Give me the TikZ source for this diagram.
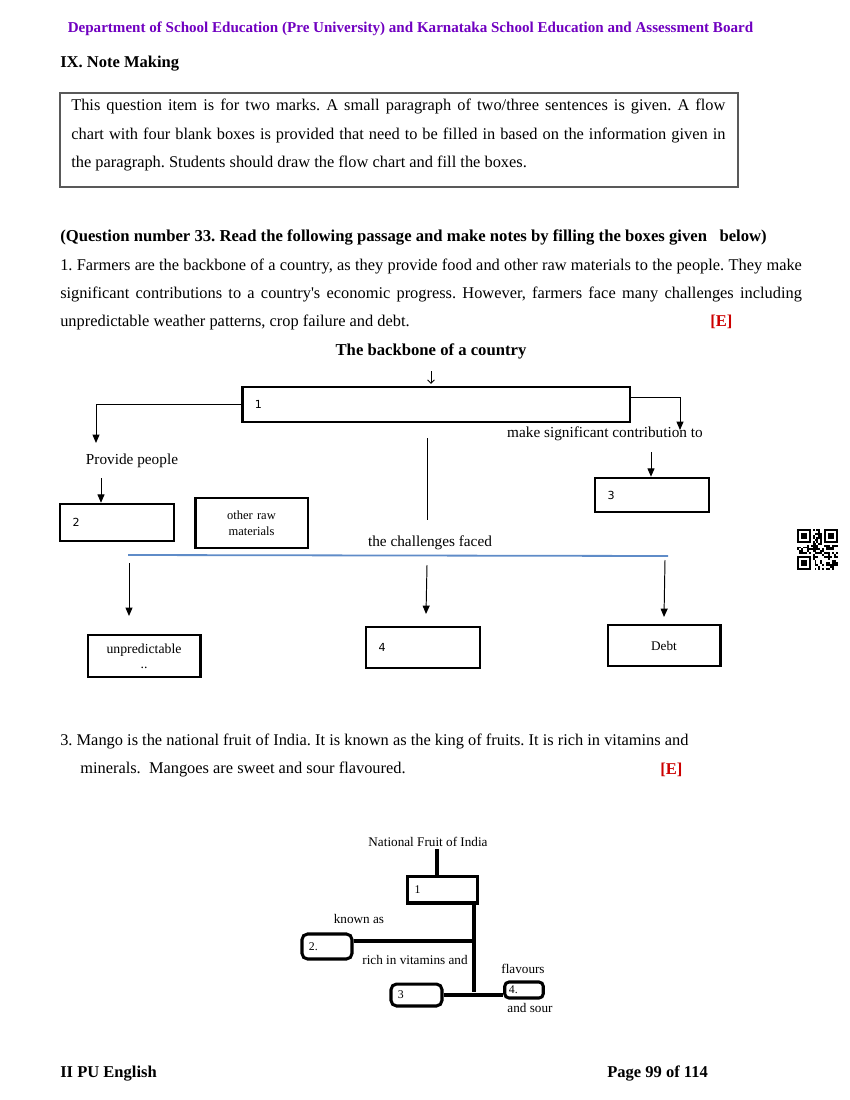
\documentclass[tikz,border=0pt]{standalone}
\usepackage{fontspec}
\setmainfont{Liberation Serif}
\newfontfamily\boxfont{DejaVu Sans}
\usepackage{tikz}
\usetikzlibrary{arrows.meta, positioning, calc}
\definecolor{hdrpurple}{RGB}{112,0,192}
\definecolor{markred}{RGB}{204,0,0}
\definecolor{lineblue}{RGB}{95,140,200}
\frenchspacing

\begin{document}
\begin{tikzpicture}[x=0.72pt, y=-0.72pt,
    txt/.style={inner sep=0pt, anchor=base west, font=\fontsize{11.8}{14}\selectfont},
    hdr/.style={inner sep=0pt, anchor=base west, font=\fontsize{11.9}{14}\selectfont\bfseries},
    para/.style={inner sep=0pt, anchor=base west, text width=#1, align=justify, font=\fontsize{11.8}{20.3}\selectfont},
    lbl/.style={inner sep=1pt, font=\fontsize{11}{13}\selectfont},
    mlbl/.style={inner sep=1pt, font=\fontsize{9.5}{11}\selectfont},
    nbox/.style 2 args={draw, line width=1.8pt, text width=#1, minimum height=#2, inner xsep=9pt, inner ysep=0pt, align=left, font=\boxfont\fontsize{8}{10}\selectfont},
    tbox/.style 2 args={draw, line width=1.8pt, text width=#1, minimum height=#2, inner xsep=4pt, inner ysep=0pt, align=center, font=\fontsize{9}{11.5}\selectfont},
    mbox/.style 2 args={draw, line width=2.2pt, text width=#1, minimum height=#2, inner xsep=5pt, inner ysep=0pt, align=left, font=\fontsize{8.5}{9}\selectfont},
    arr/.style={-{Triangle[length=6pt, width=5pt]}, line width=0.7pt},
    thk/.style={line width=2.5pt},
    >=Stealth
]
\useasboundingbox (0,0) rectangle (850,1100);

% header
\node[inner sep=0pt, anchor=base, text=hdrpurple, font=\fontsize{10.85}{12}\selectfont\bfseries] (dept) at (410.5,33)
  {Department of School Education (Pre University) and Karnataka School Education and Assessment Board};
\node[hdr] (sec) at (60,68) {IX. Note Making};

% instructions
\draw[line width=0.9pt, black!65] (60,93) rectangle (738,187);
\node[para=471pt] (instr) at (71,111)
  {This question item is for two marks. A small paragraph of two/three sentences is given. A flow\linebreak
   chart with four blank boxes is provided that need to be filled in based on the information given in\linebreak
   the paragraph. Students should draw the flow chart and fill the boxes.};

% question 33
\node[hdr, font=\fontsize{12}{14}\selectfont\bfseries] (q33) at (60,241) {(Question number 33. Read the following passage and make notes by filling the boxes given\ \ \ below)};
\node[para=534pt] (pass1) at (60,270)
  {1. Farmers are the backbone of a country, as they provide food and other raw materials to the people. They make\linebreak
   significant contributions to a country\textquotesingle s economic progress. However, farmers face many challenges including\linebreak
   unpredictable weather patterns, crop failure and debt.};
\node[hdr, text=markred] (mark1) at (710,326) {[E]};

% flow chart 1
\node[inner sep=0pt, anchor=base, font=\fontsize{12}{14}\selectfont\bfseries] (title) at (431,355) {The backbone of a country};
\node[nbox={261pt}{25pt}] (b1) at (436,404.5) {1};
\node[lbl] (pp) at (132,461) {Provide people};
\node[nbox={64pt}{26.6pt}] (b2) at (117,522.5) {2};
\node[tbox={73pt}{36pt}] (raw) at (251.5,523) {other raw\\materials};
\node[lbl] (msc) at (605,434) {make significant contribution to};
\node[nbox={64pt}{24.5pt}] (b3) at (652,495) {3};
\node[lbl] (chl) at (430,543) {the challenges faced};
\node[tbox={73pt}{30pt}, font=\fontsize{9.9}{12}\selectfont] (unp) at (144,656) {unpredictable\\[-1pt]..};
\node[nbox={64pt}{29.5pt}] (b4) at (423,647.5) {4};
\node[tbox={73pt}{29.5pt}, font=\fontsize{9.5}{11}\selectfont] (debt) at (664,645.5) {Debt};

\coordinate (ta) at (431,371);
\coordinate (pa) at (96,443);
\coordinate (pb) at (101,478);
\coordinate (ca) at (427,438);
\coordinate (cb) at (427,520);
\coordinate (ma) at (680,430);
\coordinate (mb) at (651,452);
\coordinate (bl1) at (128,555);
\coordinate (bl2) at (668,556);

\draw[-{Straight Barb[length=2.5pt, width=5pt]}, line width=0.6pt] (ta) -- ($(ta |- b1.north)+(0,-2)$);
\draw[arr] (b1.west) -| (pa);
\draw[arr] (pb) -- (pb |- b2.north);
\draw[line width=0.7pt] (ca) -- (cb);
\draw[arr] ([yshift=4.7pt]b1.east) -| (ma);
\draw[arr] (mb) -- (mb |- b3.north);
\draw[lineblue, line width=1.3pt] (bl1) -- (bl2);
\draw[arr] (129,563) -- (129,616);
\draw[arr] (427,565) -- (426,614);
\draw[arr] (665,560) -- (664,617);

% QR
\begin{scope}[shift={(797,529)}, x=1.4pt, y=-1.4pt]
  \foreach \fx/\fy in {0/0,14/0,0/14}{
    \fill (\fx,\fy) rectangle ++(7,7);
    \fill[white] (\fx+1,\fy+1) rectangle ++(5,5);
    \fill (\fx+2,\fy+2) rectangle ++(3,3);
  }
  \pgfmathsetseed{11}
  \foreach \c in {0,...,20}{
    \foreach \r in {0,...,20}{
      \pgfmathparse{((\c<8 && \r<8) || (\c>12 && \r<8) || (\c<8 && \r>12)) ? 0 : rnd}
      \ifdim\pgfmathresult pt>0.5pt \fill (\c,\r) rectangle ++(1,1); \fi
    }
  }
\end{scope}

% question 3
\node[txt] (pass3a) at (60,745) {3. Mango is the national fruit of India. It is known as the king of fruits. It is rich in vitamins and};
\node[txt] (pass3b) at (80,773) {minerals.\ \ Mangoes are sweet and sour flavoured.};
\node[hdr, text=markred] (mark3) at (660,774) {[E]};

% flow chart 3
\node[mlbl] (nfi) at (428,842) {National Fruit of India};
\node[mbox={40pt}{19.4pt}] (m1) at (442.5,889.5) {1};
\node[mbox={26pt}{18pt}, rounded corners=4pt] (m2) at (327,946.5) {2.};
\node[mbox={26.7pt}{15.8pt}, rounded corners=4pt] (m3) at (416.5,995) {3};
\node[mbox={21.7pt}{11.5pt}, rounded corners=3pt, inner xsep=3pt] (m4) at (524,990) {4.};
\node[mlbl] (kn) at (359,919) {known as};
\node[mlbl] (rv) at (415,960) {rich in vitamins and};
\node[mlbl] (fl) at (523,969) {flavours};
\node[mlbl] (as) at (530,1008) {and sour};

\coordinate (ms) at (437,849);
\coordinate (mt) at (474,992);
\draw[thk] (ms) -- (ms |- m1.north);
\draw[thk] (mt |- m1.south) -- (mt);
\draw[thk] ([yshift=4pt]m2.east) -- ([yshift=4pt]m2.east -| mt);
\draw[thk] (m3.east) -- (m3.east -| m4.west);

% footer
\node[hdr] (foot1) at (60,1077) {II PU English};
\node[hdr] (foot2) at (607,1077) {Page 99 of 114};
\end{tikzpicture}
\end{document}
